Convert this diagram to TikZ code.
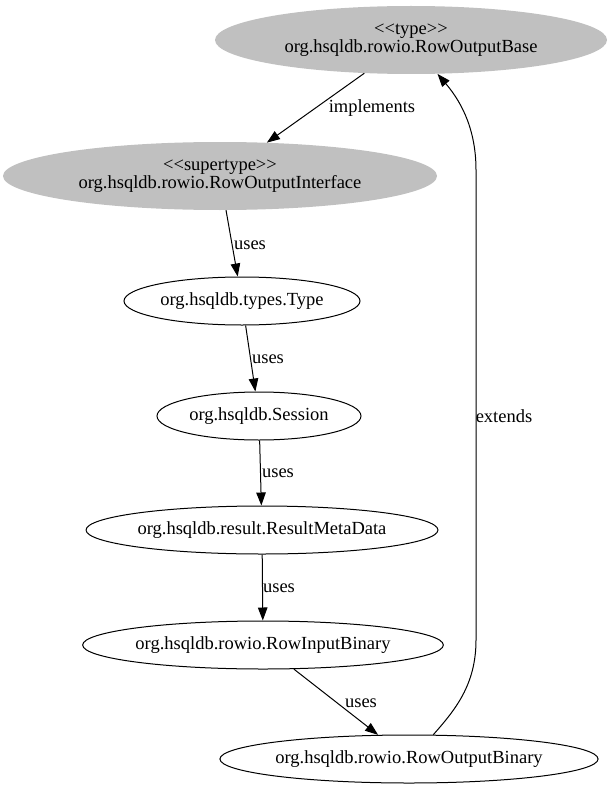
\documentclass[tikz,border=0pt]{standalone}
\usepackage{fontspec}
\setmainfont{Liberation Serif}
\usetikzlibrary{shapes.geometric,arrows.meta}
\definecolor{nodegray}{RGB}{192,192,192}
\tikzset{
  cls/.style={ellipse,draw,line width=1pt,inner sep=0pt,minimum height=48pt},
  iface/.style={ellipse,fill=nodegray,inner sep=0pt,align=center,minimum height=68pt},
  edge/.style={-{Triangle[length=13pt,width=9.5pt]},line width=1pt},
  lbl/.style={inner sep=0pt}
}
\begin{document}
\begin{tikzpicture}[x=1pt,y=-1pt,font=\fontsize{18.5}{18}\selectfont]
\useasboundingbox (0,0) rectangle (612,789);

% gray nodes
\node[iface,minimum width=392pt] (typ) at (411,40) {<{}<type>{}>\\org.hsqldb.rowio.RowOutputBase};
\node[iface,minimum width=434pt] (sup) at (220,176) {<{}<supertype>{}>\\org.hsqldb.rowio.RowOutputInterface};

% plain nodes
\node[cls,minimum width=236pt] (tp) at (242,301) {org.hsqldb.types.Type};
\node[cls,minimum width=204pt] (ses) at (259,416) {org.hsqldb.Session};
\node[cls,minimum width=345pt] (rmd) at (262,530) {org.hsqldb.result.ResultMetaData};
\node[cls,minimum width=352pt] (rib) at (263,645) {org.hsqldb.rowio.RowInputBinary};
\node[cls,minimum width=368pt] (rob) at (409,759) {org.hsqldb.rowio.RowOutputBinary};

\draw[edge] (typ) -- (sup);
\draw[edge] (sup) -- (tp);
\draw[edge] (tp) -- (ses);
\draw[edge] (ses) -- (rmd);
\draw[edge] (rmd) -- (rib);
\draw[edge] (rib) -- (rob);
\draw[edge] (rob.45) .. controls (455,710) and (476,685) .. (476,640)
  -- (476,170) .. controls (476,125) and (458,98) .. (typ.-52);

\node[lbl] (limpl) at (372,108) {implements};
\node[lbl] (lu1) at (250,245) {uses};
\node[lbl] (lu2) at (268,359) {uses};
\node[lbl] (lu3) at (278,473) {uses};
\node[lbl] (lu4) at (279,588) {uses};
\node[lbl] (lu5) at (361,703) {uses};
\node[lbl] (lext) at (504,416) {extends};
\end{tikzpicture}
\end{document}
